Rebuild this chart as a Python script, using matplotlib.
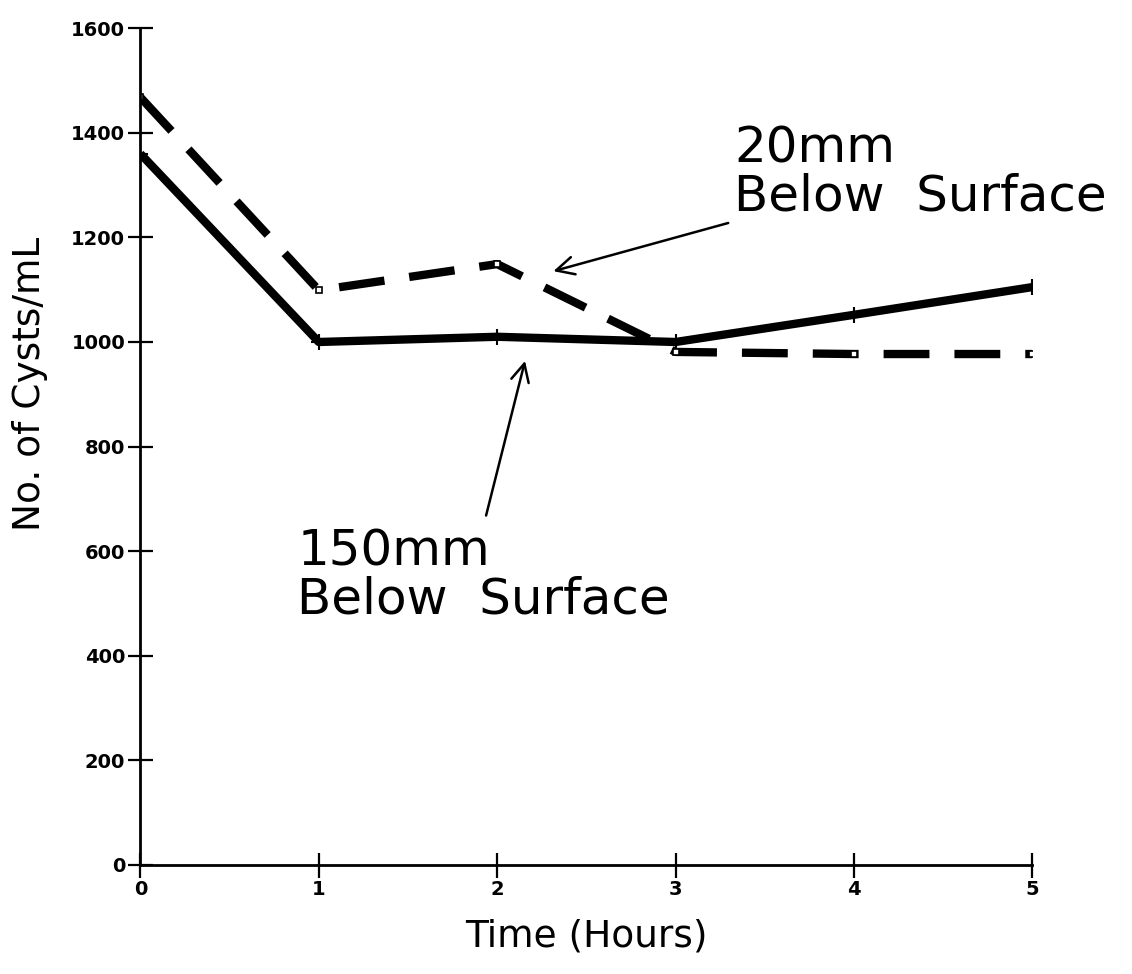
import matplotlib
matplotlib.use('Agg')
from matplotlib import pyplot as plt

hours = [0, 1, 2, 3, 4, 5]
cysts_150mm = [1360, 1000, 1010, 1000, 1052, 1105]
cysts_20mm = [1468, 1099, 1149, 981, 977, 977]
x_ticks = [0, 1, 2, 3, 4, 5]
y_ticks = [0, 200, 400, 600, 800, 1000, 1200, 1400, 1600]

plt.rcParams['font.family'] = ['DejaVu Sans']

fig = plt.figure(figsize=(11.32, 9.74), dpi=100)
ax = fig.add_axes([0.124, 0.112, 0.788, 0.859])

ax.plot(hours, cysts_150mm, color='black', lw=6, solid_capstyle='butt',
        marker='+', markersize=12, markeredgewidth=1.5)
ax.plot(hours, cysts_20mm, color='black', lw=6, dashes=(5.5, 3), dash_capstyle='butt',
        marker='s', markersize=5, markerfacecolor='white', markeredgewidth=1.2)

ax.set_xlim(0, 5)
ax.set_ylim(0, 1600)
ax.set_xticks(x_ticks)
ax.set_yticks(y_ticks)
ax.tick_params(direction='inout', length=18, width=1.6, labelsize=14, pad=2)
for lbl in ax.get_xticklabels() + ax.get_yticklabels():
    lbl.set_fontweight('bold')
ax.spines['top'].set_visible(False)
ax.spines['right'].set_visible(False)
ax.spines['left'].set_linewidth(2)
ax.spines['bottom'].set_linewidth(2)

ax.set_xlabel('Time (Hours)', fontsize=27, labelpad=14)
ax.set_ylabel('No. of Cysts/mL', fontsize=27)
ax.yaxis.set_label_coords(-0.104, 0.575)

ax.text(3.33, 1415, '20mm\nBelow  Surface', fontsize=36, ha='left', va='top', linespacing=1.0)
ax.annotate('', xy=(2.3, 1134), xytext=(3.31, 1229),
            arrowprops=dict(arrowstyle='->', lw=1.8, color='black', mutation_scale=32))

ax.text(0.88, 646, '150mm\nBelow  Surface', fontsize=36, ha='left', va='top', linespacing=1.0)
ax.annotate('', xy=(2.16, 969), xytext=(1.934, 663),
            arrowprops=dict(arrowstyle='->', lw=1.8, color='black', mutation_scale=32))

fig.savefig('out.png', dpi=100)
